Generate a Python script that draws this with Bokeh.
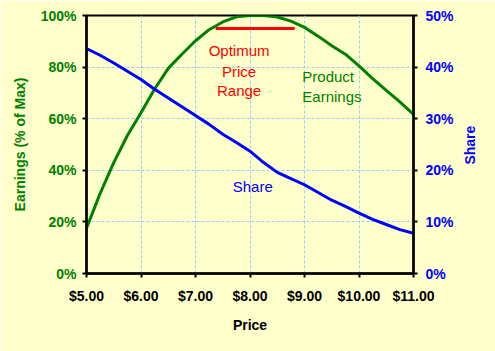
import math
from bokeh.plotting import figure
from bokeh.models import (LinearAxis, Range1d, FixedTicker, NumeralTickFormatter,
                          Label, ColumnDataSource)
from bokeh.embed import file_html
from bokeh.resources import INLINE

# ---- data ----
price = [5.0, 5.25, 5.5, 5.75, 6.0, 6.25, 6.5, 6.75, 7.0, 7.25, 7.5, 7.75, 8.0,
         8.25, 8.5, 8.75, 9.0, 9.25, 9.5, 9.75, 10.0, 10.25, 10.5, 10.75, 11.0]
earnings = [0.176, 0.31, 0.43, 0.535, 0.623, 0.715, 0.795, 0.85, 0.902, 0.945,
            0.975, 0.995, 1.0, 1.0, 0.994, 0.978, 0.954, 0.92, 0.883, 0.85,
            0.805, 0.755, 0.71, 0.665, 0.617]
share = [0.436, 0.423, 0.408, 0.392, 0.376, 0.357, 0.34, 0.323, 0.306, 0.289,
         0.27, 0.254, 0.237, 0.215, 0.196, 0.184, 0.172, 0.157, 0.142, 0.13,
         0.117, 0.105, 0.095, 0.085, 0.078]
optimum_range = [7.37, 8.82]
optimum_level = [0.95, 0.95]

x_ticks = [5, 6, 7, 8, 9, 10, 11]
left_ticks = [0, 0.2, 0.4, 0.6, 0.8, 1.0]
right_ticks = [0, 0.1, 0.2, 0.3, 0.4, 0.5]

GREEN = "#008000"
BLUE = "#0000FF"
RED = "#FF0000"
BG = "#FFFFCC"
FONT = "Liberation Sans"

p = figure(width=495, height=351, output_backend="svg", toolbar_location=None,
           x_range=Range1d(5, 11), y_range=Range1d(0, 1),
           min_border_left=86, min_border_right=82, min_border_top=15,
           min_border_bottom=78)
p.extra_y_ranges = {"share": Range1d(0, 0.5)}

p.background_fill_color = BG
p.border_fill_color = BG
p.outline_line_color = "black"
p.outline_line_width = 2

# grid
for g in (p.xgrid, p.ygrid):
    g.grid_line_color = "#99CCFF"
    g.grid_line_dash = "3 2"
    g.grid_line_width = 1
p.xgrid.ticker = FixedTicker(ticks=x_ticks)
p.ygrid.ticker = FixedTicker(ticks=left_ticks)

# x axis
xa = p.xaxis[0]
xa.ticker = FixedTicker(ticks=x_ticks)
xa.formatter = NumeralTickFormatter(format="$0.00")
xa.axis_label = "Price"

# left axis
ya = p.yaxis[0]
ya.ticker = FixedTicker(ticks=left_ticks)
ya.formatter = NumeralTickFormatter(format="0%")
ya.axis_label = "Earnings (% of Max)"

# right axis: title reads upward; anchored at the axis start and padded
# with no-break spaces so that it sits centred beside the frame
ra = LinearAxis(y_range_name="share", ticker=FixedTicker(ticks=right_ticks),
                formatter=NumeralTickFormatter(format="0%"))
p.add_layout(ra, "right")
if hasattr(ra, "axis_label_orientation") and hasattr(ra, "axis_label_align"):
    ra.axis_label_orientation = math.pi / 2
    ra.axis_label_align = "start"
    ra.axis_label = "\u00a0" * 28 + "Share"
else:
    ra.axis_label = "Share"

for ax, col in ((xa, "black"), (ya, GREEN), (ra, BLUE)):
    ax.axis_line_color = "black"
    ax.axis_line_width = 2.5
    ax.major_tick_line_color = "black"
    ax.major_tick_line_width = 2
    ax.major_tick_out = 4
    ax.major_tick_in = 0
    ax.minor_tick_line_color = None
    ax.major_label_text_font = FONT
    ax.major_label_text_font_style = "bold"
    ax.major_label_text_font_size = "14px"
    ax.major_label_text_color = col
    ax.axis_label_text_font = FONT
    ax.axis_label_text_font_style = "bold"
    ax.axis_label_text_font_size = "14px"
    ax.axis_label_text_color = col

xa.major_label_standoff = 10
xa.axis_label_standoff = 10
ya.major_label_standoff = 6
ya.axis_label_standoff = 10
ra.major_label_standoff = 8
ra.axis_label_standoff = 13

src = ColumnDataSource(dict(price=price, earnings=earnings, share=share))
p.line("price", "earnings", source=src, line_color=GREEN, line_width=3)
p.line("price", "share", source=src, line_color=BLUE, line_width=3,
       y_range_name="share")
p.line(optimum_range, optimum_level, line_color=RED, line_width=3)

def lab(x, y, t, col, align="center"):
    p.add_layout(Label(x=x, y=y, text=t, text_color=col, text_font=FONT,
                       text_font_size="15px", text_align=align,
                       text_baseline="middle"))

lab(7.8, 0.866, "Optimum", RED)
lab(7.8, 0.784, "Price", RED)
lab(7.8, 0.71, "Range", RED)
lab(8.96, 0.762, "Product", GREEN, "left")
lab(8.96, 0.686, "Earnings", GREEN, "left")
lab(8.05, 0.337, "Share", BLUE)

open("out.html", "w").write(file_html(p, INLINE))
